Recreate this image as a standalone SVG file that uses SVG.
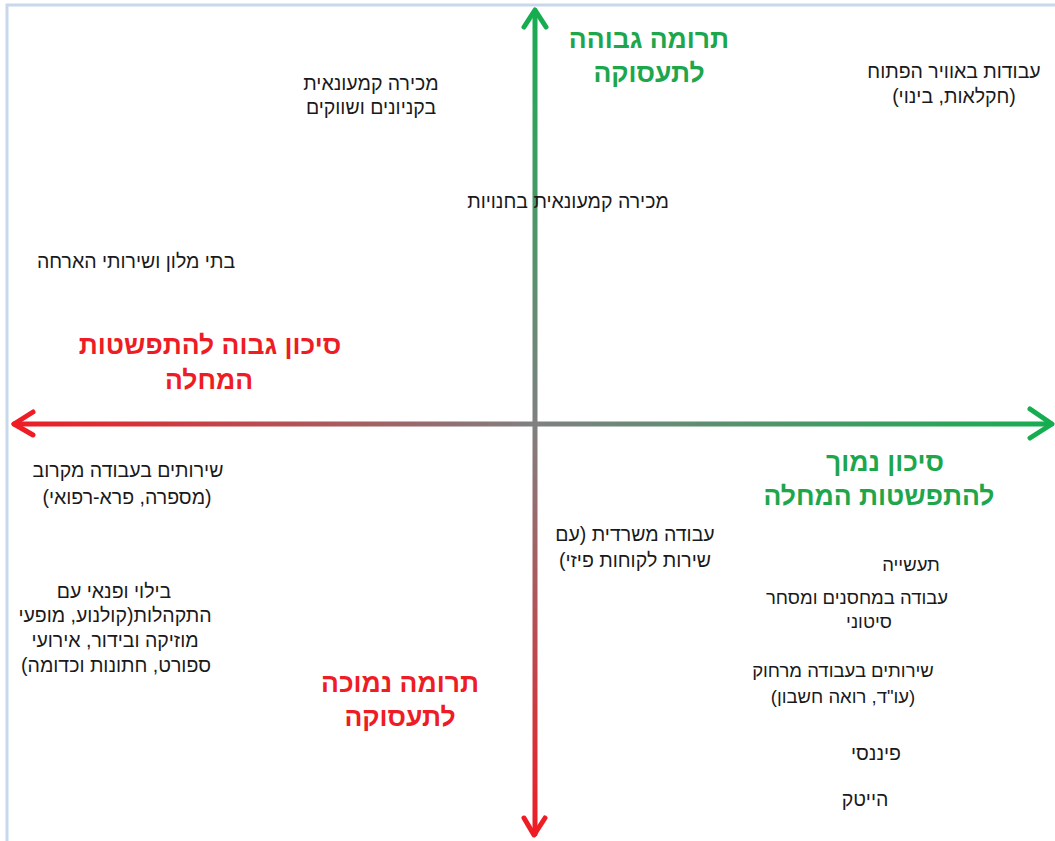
<svg xmlns="http://www.w3.org/2000/svg" width="1055" height="841" viewBox="0 0 1055 841">
<style>
.t{font-family:"Liberation Sans","DejaVu Sans",sans-serif;font-size:19.5px;fill:#1a1a1a;text-anchor:middle;direction:rtl;unicode-bidi:embed}
.s{font-size:18.5px}
.g{font-family:"Liberation Sans","DejaVu Sans",sans-serif;font-size:26.5px;font-weight:bold;fill:#1ea64d;text-anchor:middle;direction:rtl;unicode-bidi:embed}
.r{font-family:"Liberation Sans","DejaVu Sans",sans-serif;font-size:26.5px;font-weight:bold;fill:#ee1c24;text-anchor:middle;direction:rtl;unicode-bidi:embed}
.ax{fill:none;stroke-width:5;stroke-linecap:round;stroke-linejoin:round}
</style>
<defs>
<linearGradient id="gv" gradientUnits="userSpaceOnUse" x1="0" y1="10" x2="0" y2="836">
<stop offset="0" stop-color="#16ad50"/>
<stop offset="0.5" stop-color="#808080"/>
<stop offset="1" stop-color="#ee1c24"/>
</linearGradient>
<linearGradient id="gh" gradientUnits="userSpaceOnUse" x1="12" y1="0" x2="1053" y2="0">
<stop offset="0" stop-color="#ee1c24"/>
<stop offset="0.5" stop-color="#808080"/>
<stop offset="1" stop-color="#16ad50"/>
</linearGradient>
</defs>
<rect width="1055" height="841" fill="#ffffff"/>
<rect x="7" y="5" width="1060" height="850" fill="none" stroke="#c8d7ec" stroke-width="3"/>
<g id="connectors">
<line class="ax" x1="535" y1="11" x2="535" y2="834" stroke="url(#gv)"/>
<line class="ax" x1="14" y1="424" x2="1051" y2="424" stroke="url(#gh)"/>
<polyline class="ax" points="524,27 535,10 546,27" stroke="#16ad50"/>
<polyline class="ax" points="524,818 534,835 545,818" stroke="#ee1c24"/>
<polyline class="ax" points="33,412 14,424 33,435" stroke="#ee1c24"/>
<polyline class="ax" points="1030,409 1052,424 1030,438" stroke="#16ad50"/>
</g>
<g id="high-employment"><text class="g" x="649" y="48">תרומה גבוהה</text><text class="g" x="649" y="82">לתעסוקה</text></g>
<g id="low-employment"><text class="r" x="400" y="692">תרומה נמוכה</text><text class="r" x="400" y="726">לתעסוקה</text></g>
<g id="high-risk"><text class="r" x="210" y="354">סיכון גבוה להתפשטות</text><text class="r" x="209" y="389">המחלה</text></g>
<g id="low-risk"><text class="g" x="885" y="471">סיכון נמוך</text><text class="g" x="879" y="505">להתפשטות המחלה</text></g>
<g id="outdoor"><text class="t" x="954" y="78">עבודות באוויר הפתוח</text><text class="t" x="954" y="103">(חקלאות, בינוי)</text></g>
<g id="malls"><text class="t" x="371" y="90">מכירה קמעונאית</text><text class="t" x="371" y="114">בקניונים ושווקים</text></g>
<g id="stores"><text class="t" x="568" y="208">מכירה קמעונאית בחנויות</text></g>
<g id="hotels"><text class="t" x="136" y="268">בתי מלון ושירותי הארחה</text></g>
<g id="close-services"><text class="t" x="128" y="477">שירותים בעבודה מקרוב</text><text class="t" x="127" y="504">(מספרה, פרא-רפואי)</text></g>
<g id="office"><text class="t" x="635" y="541">עבודה משרדית (עם</text><text class="t" x="635" y="567">שירות לקוחות פיזי)</text></g>
<g id="leisure"><text class="t" x="114" y="598">בילוי ופנאי עם</text><text class="t" x="115" y="622">התקהלות(קולנוע, מופעי</text><text class="t" x="115" y="647">מוזיקה ובידור, אירועי</text><text class="t" x="116" y="672">ספורט, חתונות וכדומה)</text></g>
<g id="industry"><text class="t s" x="911" y="571">תעשייה</text></g>
<g id="warehouses"><text class="t s" x="857" y="604">עבודה במחסנים ומסחר</text><text class="t s" x="869" y="628">סיטוני</text></g>
<g id="remote"><text class="t s" x="843" y="677">שירותים בעבודה מרחוק</text><text class="t s" x="843" y="703">(עו"ד, רואה חשבון)</text></g>
<g id="finance"><text class="t" x="876" y="760">פיננסי</text></g>
<g id="hitech"><text class="t" x="865" y="806">הייטק</text></g>
</svg>
